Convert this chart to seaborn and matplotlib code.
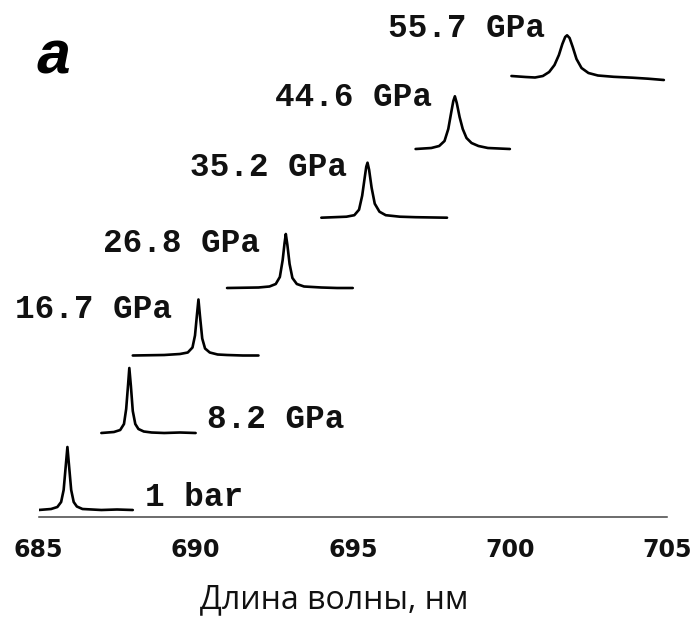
import matplotlib
matplotlib.use("Agg")
import matplotlib.pyplot as plt
import numpy as np
import pandas as pd
import seaborn as sns

# Spectra recorded at increasing pressure (wavelength in nm, intensity in arb. units)
labels = ["1 bar", "8.2 GPa", "16.7 GPa", "26.8 GPa", "35.2 GPa", "44.6 GPa", "55.7 GPa"]

wl_1bar = [685.0, 685.4, 685.6, 685.72, 685.8, 685.87, 685.92, 685.97, 686.04, 686.12, 686.22, 686.4, 687.0, 687.5, 688.0]
int_1bar = [0, 1, 3, 8, 20, 45, 63, 45, 20, 8, 3.5, 1, 0, 0.5, 0]

wl_8_2 = [687.0, 687.4, 687.6, 687.72, 687.79, 687.85, 687.89, 687.94, 688.0, 688.08, 688.18, 688.35, 688.6, 689.0, 689.5, 690.0]
int_8_2 = [0, 1, 3, 9, 24, 48, 65, 47, 22, 9, 4, 1.5, 0.5, 0, 0.5, 0]

wl_16_7 = [688.0, 689.0, 689.5, 689.75, 689.9, 689.98, 690.04, 690.09, 690.14, 690.21, 690.3, 690.45, 690.7, 691.0, 691.5, 692.0]
int_16_7 = [0, 0.5, 1.5, 3, 8, 20, 40, 56, 39, 17, 7, 3, 1, 0.5, 0, 0]

wl_26_8 = [691.0, 692.0, 692.35, 692.55, 692.68, 692.77, 692.83, 692.87, 692.92, 692.99, 693.08, 693.22, 693.45, 694.0, 694.5, 695.0]
int_26_8 = [0, 0.5, 1.5, 4, 11, 28, 45, 54, 43, 24, 10, 4, 1.5, 0.5, 0, 0]

wl_35_2 = [694.0, 694.8, 695.05, 695.2, 695.3, 695.38, 695.43, 695.47, 695.52, 695.6, 695.7, 695.85, 696.05, 696.5, 697.0, 698.0]
int_35_2 = [0, 1, 2.5, 8, 22, 40, 51, 55, 48, 30, 14, 6, 2.5, 1, 0.5, 0]

wl_44_6 = [697.0, 697.5, 697.75, 697.92, 698.04, 698.13, 698.2, 698.25, 698.31, 698.4, 698.5, 698.62, 698.78, 699.0, 699.3, 700.0]
int_44_6 = [0, 1, 3, 8, 20, 36, 48, 52.7, 46, 32, 20, 11, 6, 3, 1, 0]

wl_55_7 = [700.05, 700.5, 700.8, 701.05, 701.25, 701.42, 701.56, 701.67, 701.76, 701.82, 701.9, 702.0, 702.12, 702.28, 702.5, 702.8, 703.3, 703.9, 704.4, 704.9]
int_55_7 = [4, 3, 2.5, 4, 8, 15, 25, 36, 43, 44.7, 42, 33, 21, 12, 7, 4.5, 3.2, 2.3, 1.3, 0]

xticks = [685, 690, 695, 700, 705]

wavelengths = [wl_1bar, wl_8_2, wl_16_7, wl_26_8, wl_35_2, wl_44_6, wl_55_7]
intensities = [int_1bar, int_8_2, int_16_7, int_26_8, int_35_2, int_44_6, int_55_7]

# vertical stacking of the traces
offsets = [7, 84, 161.5, 229, 299.3, 368, 437]

rows = []
for lab, wl, inten, off in zip(labels, wavelengths, intensities, offsets):
    for w, v in zip(wl, inten):
        rows.append({"pressure": lab, "wavelength": w, "signal": v + off})
df = pd.DataFrame(rows)

sns.set_style("white")
plt.rcParams["font.family"] = ["DejaVu Sans"]

W, H = 698, 619
fig = plt.figure(figsize=(W / 100, H / 100), dpi=100)
ax_left, ax_bottom, ax_top, ax_right = 38.5, 517, 17, 667
ax = fig.add_axes([ax_left / W, (H - ax_bottom) / H,
                   (ax_right - ax_left) / W, (ax_bottom - ax_top) / H])

sns.lineplot(data=df, x="wavelength", y="signal", units="pressure",
             estimator=None, sort=False, color="black", linewidth=1.9, ax=ax)

ax.set_xlim(685, 705)
ax.set_ylim(0, ax_bottom - ax_top)
ax.set_xticks(xticks)
ax.set_xticklabels([str(t) for t in xticks])
ax.set_yticks([])
ax.set_ylabel("")

for side in ["top", "right", "left"]:
    ax.spines[side].set_visible(False)
ax.spines["bottom"].set_color("#444444")
ax.spines["bottom"].set_linewidth(1.1)
ax.tick_params(axis="x", direction="out", length=6.3, width=1.1, color="#444444",
               pad=9, labelsize=17, labelcolor="#111111")
for t in ax.get_xticklabels():
    t.set_fontweight("bold")

ax.set_xlabel("Длина волны, нм", fontsize=23, family=["Open Sans", "DejaVu Sans"], color="#111111")
ax.xaxis.label.set_va("baseline")
ax.xaxis.set_label_coords((334.5 - ax_left) / (ax_right - ax_left),
                          (ax_bottom - 608) / (ax_bottom - ax_top))

# pressure labels beside each trace
label_pos = {
    "1 bar": (688.39, 11),
    "8.2 GPa": (690.37, 89),
    "16.7 GPa": (684.25, 199),
    "26.8 GPa": (687.05, 265),
    "35.2 GPa": (689.82, 341),
    "44.6 GPa": (692.53, 411),
    "55.7 GPa": (696.13, 480),
}
for lab in labels:
    x, y = label_pos[lab]
    ax.text(x, y, lab, family=["Liberation Mono"], fontweight="bold", fontsize=23.5,
            ha="left", va="baseline", color="#111111", clip_on=False)

ax.text(684.9, 444, "a", family=["Liberation Mono"], fontweight="bold", style="italic",
        fontsize=44, ha="left", va="baseline", color="black")

fig.savefig("out.png", dpi=100)
